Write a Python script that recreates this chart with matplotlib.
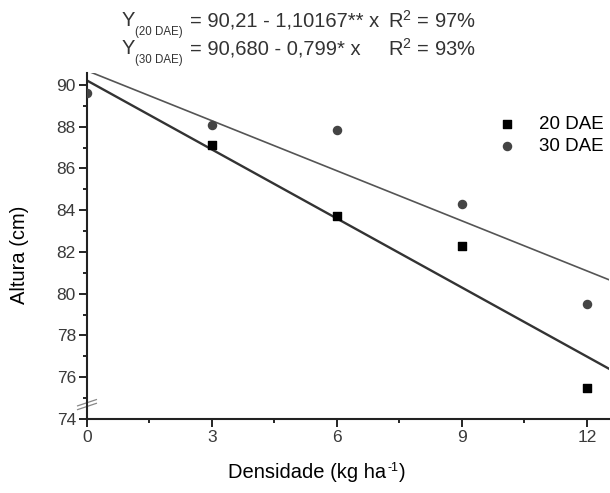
import numpy as np
import matplotlib.pyplot as plt
from matplotlib.ticker import MultipleLocator
import matplotlib.transforms as mtransforms

plt.rcParams['font.family'] = ['Liberation Sans', 'DejaVu Sans']
plt.rcParams['mathtext.fontset'] = 'custom'
plt.rcParams['mathtext.rm'] = 'Liberation Sans'

# data
dens_20 = [3, 6, 9, 12]
alt_20 = [87.1, 83.7, 82.3, 75.5]
dens_30 = [0, 3, 6, 9, 12]
alt_30 = [89.6, 88.1, 87.85, 84.3, 79.5]

# regression coefficients (intercept, slope)
fit_20 = (90.21, -1.10167)
fit_30 = (90.68, -0.799)

x_ticks = [0, 3, 6, 9, 12]
y_ticks = [74, 76, 78, 80, 82, 84, 86, 88, 90]

eq_rows = [('(20 DAE)', '= 90,21 - 1,10167** x', 'R$^2$ = 97%'),
           ('(30 DAE)', '= 90,680 - 0,799* x', 'R$^2$ = 93%')]

W, H = 610, 493
fig = plt.figure(figsize=(W / 100, H / 100), dpi=100)
ax = fig.add_axes([87 / W, 1 - 419 / H, 522 / W, 346 / H])

xmax = 12.53
xx = np.array([0, xmax])
ax.plot(xx, fit_20[0] + fit_20[1] * xx, color='#333333', lw=1.7, zorder=2)
ax.plot(xx, fit_30[0] + fit_30[1] * xx, color='#555555', lw=1.2, zorder=2)

ax.scatter(dens_20, alt_20, marker='s', s=40, color='black', zorder=3, label='20 DAE')
ax.scatter(dens_30, alt_30, marker='o', s=34, color='#444444', zorder=3, label='30 DAE')

ax.set_xlim(0, xmax)
ax.set_ylim(74, 90.57)
ax.set_xticks(x_ticks)
ax.set_yticks(y_ticks)
ax.xaxis.set_minor_locator(MultipleLocator(1.5))
ax.yaxis.set_minor_locator(MultipleLocator(1))
ax.tick_params(axis='both', which='major', direction='out', length=6, width=1.2,
               labelsize=12.5, labelcolor='#3a3a3a', pad=2)
ax.tick_params(axis='both', which='minor', direction='out', length=3, width=1.2)

for side in ['top', 'right']:
    ax.spines[side].set_visible(False)
for side in ['left', 'bottom']:
    ax.spines[side].set_linewidth(1.5)
    ax.spines[side].set_color('#222222')

fig.text(20 / W, 1 - 255 / H, 'Altura (cm)', fontsize=14.5, rotation=90,
         ha='center', va='center')

# break marks on the y axis
trans = mtransforms.blended_transform_factory(ax.transAxes, ax.transData)
for dy in (0.0, 0.18):
    ax.plot([-0.018, 0.018], [74.45 + dy, 74.75 + dy], transform=trans,
            color='#888888', lw=0.9, clip_on=False)

leg = ax.legend(loc='upper right', bbox_to_anchor=(1.012, 0.91), frameon=False,
                fontsize=13.5, handletextpad=0.7, labelspacing=0.3,
                markerscale=1.0, borderaxespad=0.2)

# equations at the top, placed in pixels from the top-left corner
for i, (sub, rhs, r2) in enumerate(eq_rows):
    yc = 21 + 28 * i
    fig.text(122 / W, 1 - yc / H, 'Y', fontsize=14.5, color='#333333', va='center')
    fig.text(135 / W, 1 - (yc + 11) / H, sub, fontsize=8.3, color='#333333', va='center')
    fig.text(190 / W, 1 - yc / H, rhs, fontsize=14.5, color='#333333', va='center')
    fig.text(388 / W, 1 - yc / H, r2, fontsize=14.5, color='#333333', va='center')

# x label built from pieces so the superscript keeps a hyphen
renderer = fig.canvas.get_renderer()
x0 = 228
t1 = fig.text(x0 / W, 1 - 473 / H, 'Densidade (kg ha', fontsize=14.5, va='center')
w1 = t1.get_window_extent(renderer).width
t2 = fig.text((x0 + w1 + 1) / W, 1 - 468 / H, '-1', fontsize=9, va='center')
w2 = t2.get_window_extent(renderer).width
fig.text((x0 + w1 + w2 + 2) / W, 1 - 473 / H, ')', fontsize=14.5, va='center')

fig.savefig('out.png', dpi=100)
